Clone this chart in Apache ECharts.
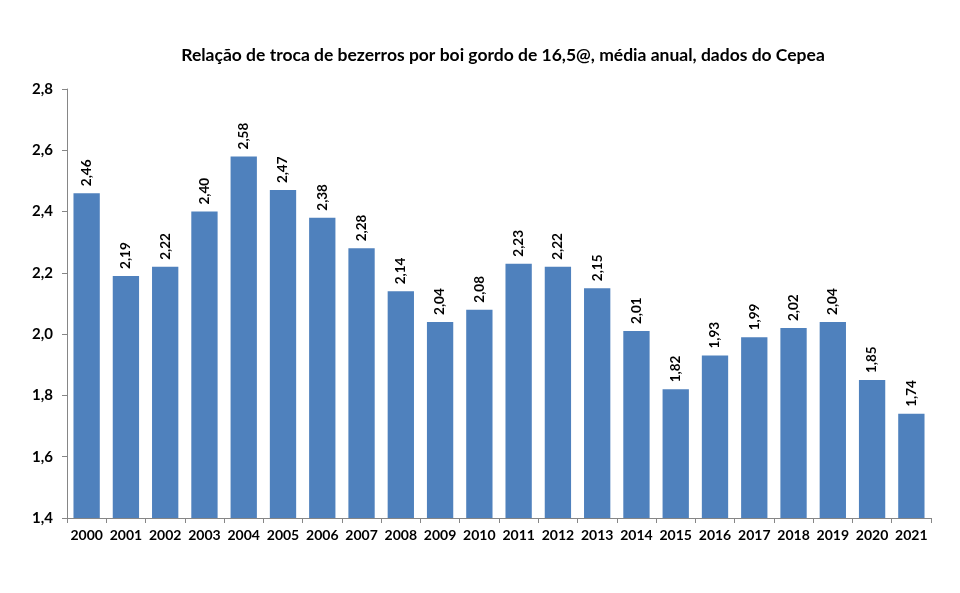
<!DOCTYPE html>
<html><head><meta charset="utf-8">
<script src="https://cdn.jsdelivr.net/npm/echarts@6/dist/echarts.min.js"></script>
<style>html,body{margin:0;padding:0;background:#fff}#c{width:960px;height:593px}</style>
</head><body><div id="c"></div>
<script>
const titleText = 'Relação de troca de bezerros por boi gordo de 16,5@, média anual, dados do Cepea';
const years = ['2000','2001','2002','2003','2004','2005','2006','2007','2008','2009','2010','2011','2012','2013','2014','2015','2016','2017','2018','2019','2020','2021'];
const ratios = [2.46,2.19,2.22,2.40,2.58,2.47,2.38,2.28,2.14,2.04,2.08,2.23,2.22,2.15,2.01,1.82,1.93,1.99,2.02,2.04,1.85,1.74];
const yMin = 1.4, yMax = 2.8, yStep = 0.2;

const FONT = 'Lato, "Liberation Sans", sans-serif';
const chart = echarts.init(document.getElementById('c'));
chart.setOption({
  animation: false,
  title: {
    text: titleText, left: 498, top: 41, textAlign: 'center',
    textStyle: { fontFamily: FONT, fontSize: 17.5, fontWeight: 'bold', color: '#000' }
  },
  grid: { left: 67, right: 29, top: 89, bottom: 75, containLabel: false },
  xAxis: {
    type: 'category', data: years,
    axisLine: { lineStyle: { color: '#868686' } },
    axisTick: { show: true, length: 5, alignWithLabel: false, lineStyle: { color: '#868686' } },
    axisLabel: { fontFamily: FONT, fontSize: 14, fontWeight: 'bold', color: '#000', margin: 10, interval: 0 }
  },
  yAxis: {
    type: 'value', min: yMin, max: yMax, interval: yStep,
    splitLine: { show: false },
    axisLine: { show: true, lineStyle: { color: '#868686' } },
    axisTick: { show: true, length: 5, lineStyle: { color: '#868686' } },
    axisLabel: { fontFamily: FONT, fontSize: 15, fontWeight: 'bold', color: '#000', margin: 14,
      formatter: v => v.toFixed(1).replace('.', ',') }
  },
  series: [{
    type: 'bar', data: ratios, barWidth: '67%',
    itemStyle: { color: '#4F81BD' },
    label: {
      show: true, position: 'top', rotate: 90, distance: 7,
      align: 'left', verticalAlign: 'middle',
      fontFamily: FONT, fontSize: 13.5, fontWeight: 'bold', color: '#000',
      formatter: p => p.value.toFixed(2).replace('.', ',')
    }
  }]
});
</script></body></html>
